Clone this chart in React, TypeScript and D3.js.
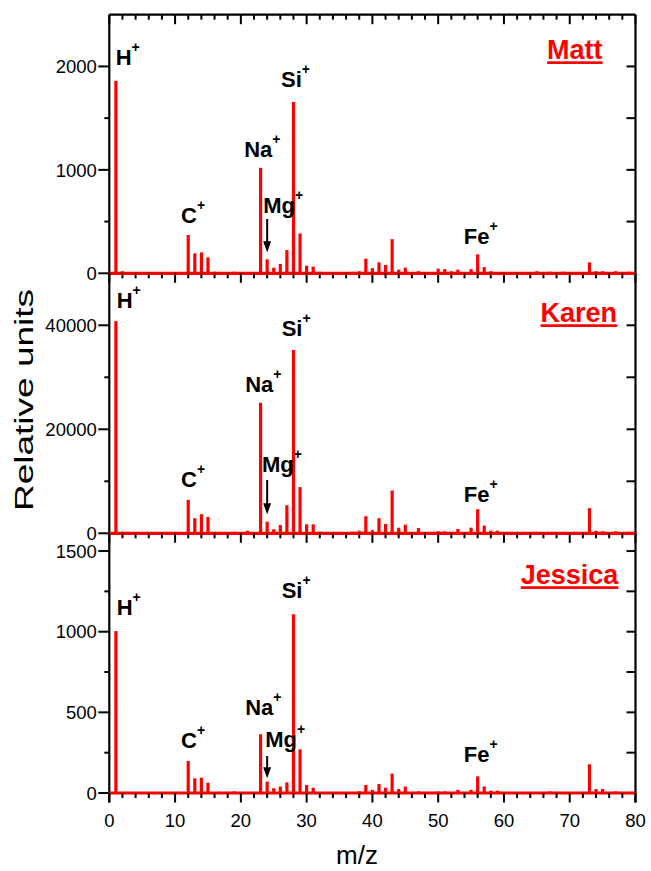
import React from "react";
import * as d3 from "d3";

// m/z values at which peaks appear
const massNumbers = [1, 2, 12, 13, 14, 15, 16, 19, 21, 23, 24, 25, 26, 27, 28, 29, 30, 31, 32, 33, 37, 38, 39, 40, 41, 42, 43, 44, 45, 47, 50, 51, 52, 53, 55, 56, 57, 58, 59, 60, 62, 65, 67, 69, 73, 74, 75, 77, 79];

const mattIntensity = [1860, 20, 370, 193, 202, 154, 15, 15, 5, 1020, 135, 54, 90, 224, 1655, 385, 73, 64, 15, 10, 15, 20, 141, 50, 106, 80, 330, 35, 55, 20, 45, 40, 20, 35, 40, 183, 60, 20, 10, 10, 10, 20, 15, 15, 106, 20, 20, 20, 15];

const karenIntensity = [40800, 300, 6430, 2900, 3670, 3150, 300, 300, 500, 25100, 2240, 770, 1600, 5400, 35250, 8880, 1740, 1740, 300, 200, 300, 500, 3280, 600, 2900, 1800, 8230, 1080, 1670, 1000, 400, 400, 200, 830, 1080, 4630, 1480, 500, 500, 200, 200, 200, 200, 200, 4830, 500, 400, 400, 300];

const jessicaIntensity = [1004, 5, 198, 91, 95, 64, 5, 10, 5, 364, 70, 30, 40, 66, 1108, 271, 50, 33, 5, 5, 5, 10, 50, 20, 56, 33, 120, 25, 40, 10, 10, 10, 5, 20, 20, 103, 40, 15, 15, 5, 5, 5, 10, 5, 178, 25, 25, 10, 5];

const panelNames = ["Matt", "Karen", "Jessica"];
const panelIntensities = [mattIntensity, karenIntensity, jessicaIntensity];
const panelMax = [2500, 50000, 1610];
const panelMajorTicks = [[0, 1000, 2000], [0, 20000, 40000], [0, 500, 1000, 1500]];
const panelMinorTicks = [[500, 1500, 2500], [10000, 30000, 50000], [250, 750, 1250]];

const xTickValues = [0, 10, 20, 30, 40, 50, 60, 70, 80];
const xMinorTickValues = d3.range(0, 81, 2);

// ion annotations: element, label anchor m/z, per-panel label anchor intensity
const ionNames = ["H", "C", "Na", "Mg", "Si", "Fe"];
const ionLabelMz = [[0.97, 10.9, 20.5, 23.4, 26.1, 53.9], [1.12, 10.9, 20.65, 23.2, 26.2, 53.9], [1.12, 10.9, 20.65, 23.7, 26.2, 53.9]];
const ionLabelValue = [
  [2014, 483, 1121, 583, 1798, 283],
  [43270, 8960, 27230, 11850, 38000, 6080],
  [1103, 277, 484, 283, 1207, 194],
];
// Mg arrow (m/z 24): from / to intensity per panel
const arrowMz = 24;
const arrowFrom = [525, 10250, 229];
const arrowTo = [203, 3650, 91];
// name labels: right-end m/z and baseline intensity
const nameMz = [75.0, 77.2, 77.4];
const nameValue = [2069, 40580, 1294];

const FONT = "'Liberation Sans', Arial, Helvetica, sans-serif";
const RED = "#ff0000";

export default function App() {
  const left = 109.3;
  const right = 635.5;
  const panelTop = [14.7, 273.3, 533.3];
  const panelBottom = [273.3, 533.3, 793];

  const x = d3.scaleLinear().domain([0, 80]).range([left, right]);

  const panels = panelNames.map((name, p) => {
    const y = d3.scaleLinear().domain([0, panelMax[p]]).range([panelBottom[p], panelTop[p]]);
    const vals = panelIntensities[p];
    const top = panelTop[p];
    return (
      <g key={name}>
        {/* left axis ticks & labels */}
        {panelMajorTicks[p].map((t) => (
          <g key={"mj" + t}>
            <line x1={left - 11} x2={left} y1={y(t)} y2={y(t)} stroke="#000" strokeWidth={2} />
            <text x={left - 12.5} y={y(t)} dy="0.36em" textAnchor="end" fontSize={18.5} fontFamily={FONT} fill="#000">
              {t}
            </text>
            <line x1={right - 9} x2={right} y1={y(t)} y2={y(t)} stroke="#000" strokeWidth={2} />
          </g>
        ))}
        {panelMinorTicks[p].filter((t) => t < panelMax[p]).map((t) => (
          <g key={"mn" + t}>
            <line x1={left - 5} x2={left} y1={y(t)} y2={y(t)} stroke="#000" strokeWidth={2} />
            <line x1={right - 9} x2={right} y1={y(t)} y2={y(t)} stroke="#000" strokeWidth={2} />
          </g>
        ))}
        {/* top edge ticks pointing down */}
        {xMinorTickValues.map((t) => (
          <line key={"tt" + t} x1={x(t)} x2={x(t)} y1={top} y2={top + (t % 10 === 0 ? 9.5 : 5)} stroke="#000" strokeWidth={2} />
        ))}
        {/* baseline */}
        <line x1={x(0)} x2={x(80)} y1={y(0)} y2={y(0)} stroke={RED} strokeWidth={3.2} />
        {/* sticks */}
        {massNumbers.map((m, i) => (
          <line key={"s" + m} x1={x(m)} x2={x(m)} y1={y(0)} y2={y(vals[i])} stroke={RED} strokeWidth={3.2} />
        ))}
        {/* ion labels */}
        {ionNames.map((ion, i) => (
          <text key={ion} x={x(ionLabelMz[p][i])} y={y(ionLabelValue[p][i])} fontSize={22} fontWeight="bold" fontFamily={FONT} fill="#000">
            {ion}
            <tspan fontSize={14} dy={-13}>+</tspan>
          </text>
        ))}
        {/* Mg arrow */}
        <line x1={x(arrowMz)} x2={x(arrowMz)} y1={y(arrowFrom[p])} y2={y(arrowTo[p]) - 8} stroke="#000" strokeWidth={2} />
        <path
          d={`M${x(arrowMz) - 4},${y(arrowTo[p]) - 11} L${x(arrowMz) + 4},${y(arrowTo[p]) - 11} L${x(arrowMz)},${y(arrowTo[p])} Z`}
          fill="#000"
        />
        {/* name */}
        <text x={x(nameMz[p])} y={y(nameValue[p])} textAnchor="end" fontSize={27} fontWeight="bold" fontFamily={FONT} fill={RED} textDecoration="underline">
          {name}
        </text>
      </g>
    );
  });

  return (
    <svg width={651} height={871} style={{ position: "absolute", left: 0, top: 0, background: "#fff" }}>
      <rect x={0} y={0} width={651} height={871} fill="#fff" />
      {/* frame */}
      <line x1={left} x2={left} y1={panelTop[0]} y2={panelBottom[2] + 9.5} stroke="#000" strokeWidth={2.2} />
      <line x1={right} x2={right} y1={panelTop[0]} y2={panelBottom[2] + 9.5} stroke="#000" strokeWidth={2.2} />
      <line x1={left} x2={right} y1={panelTop[0]} y2={panelTop[0]} stroke="#000" strokeWidth={2.2} />
      <line x1={left} x2={right} y1={panelBottom[2]} y2={panelBottom[2]} stroke="#000" strokeWidth={2.2} />
      {panels}
      {/* bottom x ticks */}
      {xMinorTickValues.map((t) => (
        <line key={"bt" + t} x1={x(t)} x2={x(t)} y1={panelBottom[2]} y2={panelBottom[2] + (t % 10 === 0 ? 9.5 : 5)} stroke="#000" strokeWidth={2} />
      ))}
      {xTickValues.map((t) => (
        <text key={"bl" + t} x={x(t)} y={826.7} textAnchor="middle" fontSize={18.5} fontFamily={FONT} fill="#000">
          {t}
        </text>
      ))}
      <text x={357} y={864} textAnchor="middle" fontSize={26} fontFamily={FONT} fill="#000">
        m/z
      </text>
      <text
        transform={`translate(33,400) rotate(-90)`}
        textAnchor="middle"
        fontSize={25}
        fontFamily={FONT}
        fill="#000"
        textLength={222}
        lengthAdjust="spacingAndGlyphs"
      >
        Relative units
      </text>
    </svg>
  );
}
